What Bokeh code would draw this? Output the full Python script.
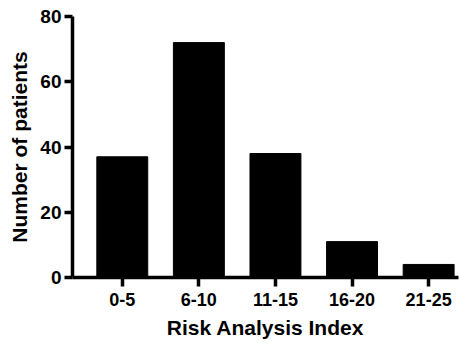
from bokeh.plotting import figure
from bokeh.models import Range1d, FixedTicker
from bokeh.embed import file_html
from bokeh.resources import INLINE

categories = ["0-5", "6-10", "11-15", "16-20", "21-25"]
patients = [37, 72, 38, 11, 4]
y_ticks = [0, 20, 40, 60, 80]

xs = list(range(len(categories)))

p = figure(width=460, height=344, output_backend="svg", toolbar_location=None,
           x_range=Range1d(-0.65, 4.39), y_range=Range1d(0, 80),
           min_border_left=72, min_border_right=2, min_border_top=16, min_border_bottom=67)

p.vbar(x=xs, top=patients, width=0.665, fill_color="black", line_color="black", line_width=1)

p.outline_line_color = None
p.xgrid.visible = False
p.ygrid.visible = False
p.background_fill_color = "white"
p.border_fill_color = "white"

FONT = "Liberation Sans"
for ax in (p.xaxis[0], p.yaxis[0]):
    ax.axis_line_width = 3.5
    ax.axis_line_color = "black"
    ax.major_tick_line_width = 3.5
    ax.major_tick_line_color = "black"
    ax.major_tick_in = 0
    ax.minor_tick_line_color = None
    ax.major_label_text_font = FONT
    ax.major_label_text_font_style = "bold"
    ax.major_label_text_color = "black"
    ax.axis_label_text_font = FONT
    ax.axis_label_text_font_style = "bold"
    ax.axis_label_text_font_size = "21px"
    ax.axis_label_text_color = "black"

p.xaxis.ticker = FixedTicker(ticks=xs)
p.xaxis.major_label_overrides = {i: c for i, c in zip(xs, categories)}
p.xaxis.major_label_text_font_size = "18px"
p.xaxis.major_tick_out = 9
p.xaxis.major_label_standoff = 6
p.xaxis.axis_label = "Risk Analysis Index"
p.xaxis.axis_label_standoff = 7

p.yaxis.ticker = FixedTicker(ticks=y_ticks)
p.yaxis.major_label_text_font_size = "19px"
p.yaxis.major_tick_out = 8
p.yaxis.major_label_standoff = 3
p.yaxis.axis_label = "Number of patients"
p.yaxis.axis_label_standoff = 6

open("out.html", "w").write(file_html(p, INLINE))
